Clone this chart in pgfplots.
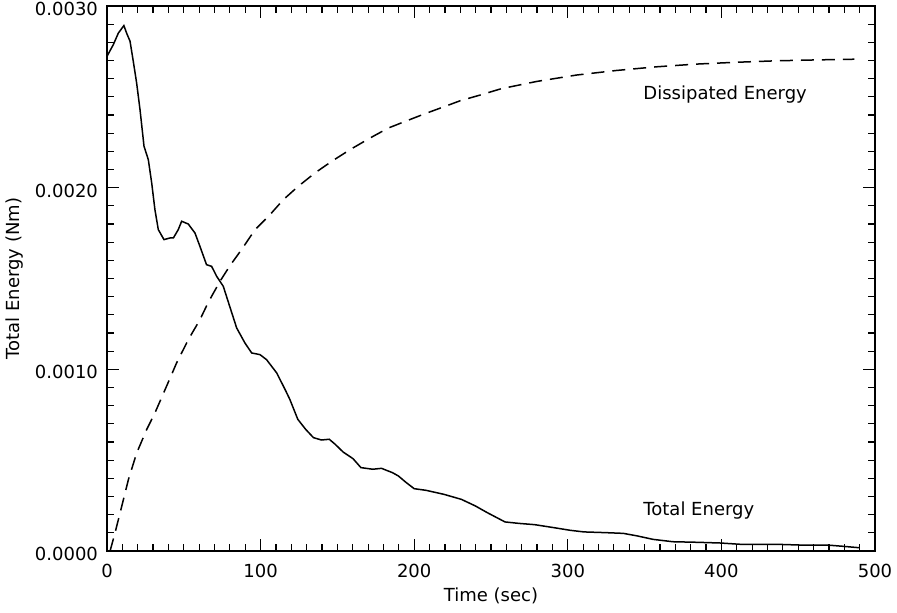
\documentclass[border=0pt]{standalone}
\usepackage{pgfplots}
\pgfplotsset{compat=1.18}
\usepackage{fontspec}
\setmainfont{DejaVu Sans}
\begin{document}
\begin{tikzpicture}
\begin{axis}[
  scale only axis,
  width=384pt, height=272.5pt,
  xmin=0, xmax=500, ymin=0, ymax=0.003,
  xtick={0,100,200,300,400,500},
  ytick={0,0.001,0.002,0.003},
  minor x tick num=9, minor y tick num=9,
  major tick length=6pt, minor tick length=3.5pt,
  tick align=inside,
  axis line style={line width=0.8pt},
  every tick/.style={black, line width=0.6pt},
  tick label style={font=\fontsize{9}{11}\selectfont},
  label style={font=\fontsize{9}{11}\selectfont},
  /pgf/number format/assume math mode=true,
  scaled y ticks=false,
  yticklabel style={xshift=-1pt, yshift=-1.5pt, /pgf/number format/fixed, /pgf/number format/fixed zerofill, /pgf/number format/precision=4},
  xticklabel style={yshift=-3pt},
  xlabel={Time (sec)},
  ylabel={Total Energy (Nm)},
  xlabel style={at={([yshift=-22.5pt]axis description cs:0.5,0)}, anchor=center},
  ylabel style={at={([xshift=-46pt]axis description cs:0,0.5)}, anchor=center},
]
% Total energy (solid)
\addplot[black, line width=0.75pt] coordinates {
(0,0.002723) (4.1,0.002787) (7.4,0.002851) (11,0.002892) (12.8,0.00285) (15,0.002806)
(17.1,0.002696) (19.3,0.002576) (21.5,0.002429) (24.1,0.002228) (26.9,0.002154)
(29.1,0.002026) (31.2,0.001879) (33.4,0.001769) (37.1,0.001714) (41,0.001723)
(43.2,0.001723) (46.4,0.001769) (48.6,0.001815) (52.9,0.0018) (57.3,0.00175)
(60.5,0.001677) (64.8,0.001576) (68.1,0.001567) (71.4,0.001512) (75.7,0.001457)
(79,0.001370) (84.4,0.001228) (89.8,0.001145) (94.2,0.00109) (99.6,0.001081)
(103.9,0.001053) (110.5,0.00098) (116.4,0.000881) (119,0.000835) (124.2,0.000725)
(129.3,0.00067) (134.4,0.000624) (139.6,0.000611) (144.7,0.000615) (148.6,0.000587)
(153.7,0.000545) (160.2,0.000508) (165.3,0.000459) (173,0.00045) (178.7,0.000455)
(185.9,0.000431) (189.7,0.000413) (194.9,0.000376) (200,0.000343) (207.7,0.000334)
(219.3,0.000312) (230.8,0.000284) (239.8,0.000248) (247.6,0.000211) (259.1,0.00016)
(268.1,0.000152) (278.4,0.000145) (291.3,0.000128) (301.5,0.000114) (310.5,0.000105)
(324.7,0.000101) (336.2,0.000097) (345.2,0.000083) (355.5,0.000064) (368.4,0.000051)
(383.8,0.000048) (399.2,0.000044) (412.1,0.000037) (435.2,0.000037) (450.6,0.000033)
(468.6,0.000033) (478.9,0.000026) (489.7,0.000018)
};
% Dissipated energy (dashed)
\addplot[black, line width=0.75pt, dash pattern=on 6.5pt off 4pt] coordinates {
(2,0) (5.2,0.000099) (9.6,0.000246) (13.9,0.000392) (19.3,0.000539) (25.8,0.000668)
(31.2,0.00076) (37.8,0.000888) (45.3,0.001035) (52.9,0.001163) (60.5,0.001273)
(66,0.00137) (73.6,0.001485) (80,0.00157) (87.6,0.001659) (96.4,0.001769)
(106.1,0.001851) (114.8,0.001934) (124.6,0.002008) (135.4,0.002081) (146.3,0.002145)
(158.2,0.002209) (171.2,0.002273) (183.1,0.002328) (195.1,0.002368) (207,0.002407)
(221.2,0.002451) (229.8,0.002478) (243,0.00251) (256.8,0.002545) (280,0.002585)
(305.8,0.00262) (331.6,0.002645) (357.4,0.002665) (383.2,0.00268) (409,0.00269)
(434.8,0.002698) (460.6,0.002703) (486.5,0.002707)
};
\node[anchor=west, font=\fontsize{9}{11}\selectfont, inner sep=0pt] at (axis cs:349,0.00251) {Dissipated Energy};
\node[anchor=west, font=\fontsize{9}{11}\selectfont, inner sep=0pt] at (axis cs:349,0.00022) {Total Energy};
\end{axis}
\pgfresetboundingbox
\path[use as bounding box] (-53.5pt,-31pt) rectangle (395pt,275.5pt);
\end{tikzpicture}
\end{document}
